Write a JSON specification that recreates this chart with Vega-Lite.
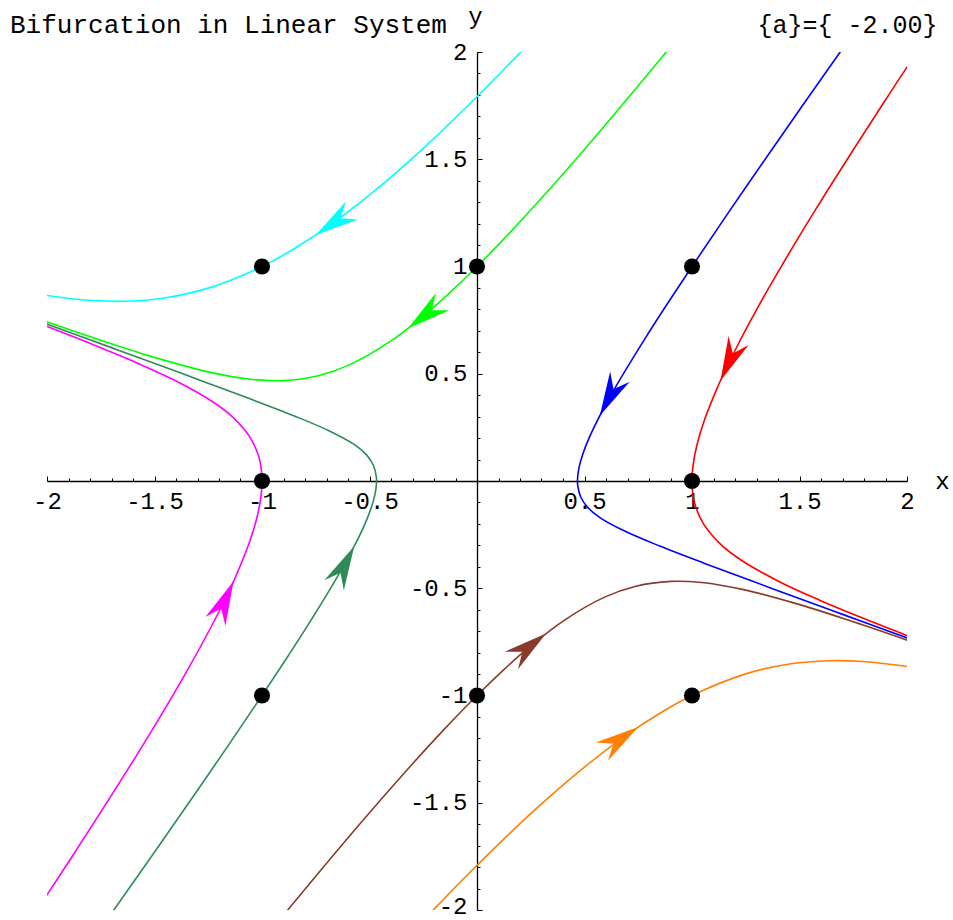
{
  "$schema": "https://vega.github.io/schema/vega-lite/v6.json",
  "width": 860,
  "height": 858,
  "autosize": {"type": "none"},
  "padding": {"left": 47, "top": 52, "right": 46, "bottom": 10},
  "background": "white",
  "config": {"view": {"stroke": null}},
  "datasets": {
    "curves": [
      {"curve": "(1,0)", "i": 1, "x": 2.0712, "y": 2.0370},
      {"curve": "(1,0)", "i": 2, "x": 1.8952, "y": 1.7693},
      {"curve": "(1,0)", "i": 3, "x": 1.5674, "y": 1.2532},
      {"curve": "(1,0)", "i": 4, "x": 1.3520, "y": 0.8907},
      {"curve": "(1,0)", "i": 5, "x": 1.2098, "y": 0.6282},
      {"curve": "(1,0)", "i": 6, "x": 1.1324, "y": 0.4677},
      {"curve": "(1,0)", "i": 7, "x": 1.1169, "y": 0.4329},
      {"curve": "(1,0)", "i": 8, "x": 1.0580, "y": 0.2841},
      {"curve": "(1,0)", "i": 9, "x": 1.0229, "y": 0.1679},
      {"curve": "(1,0)", "i": 10, "x": 1.0052, "y": 0.0753},
      {"curve": "(1,0)", "i": 11, "x": 1.0, "y": 0.0},
      {"curve": "(1,0)", "i": 12, "x": 1.0043, "y": -0.0625},
      {"curve": "(1,0)", "i": 13, "x": 1.0156, "y": -0.1153},
      {"curve": "(1,0)", "i": 14, "x": 1.0534, "y": -0.2002},
      {"curve": "(1,0)", "i": 15, "x": 1.1337, "y": -0.2955},
      {"curve": "(1,0)", "i": 16, "x": 1.2295, "y": -0.3694},
      {"curve": "(1,0)", "i": 17, "x": 1.4064, "y": -0.4694},
      {"curve": "(1,0)", "i": 18, "x": 1.5933, "y": -0.5556},
      {"curve": "(1,0)", "i": 19, "x": 1.7848, "y": -0.6355},
      {"curve": "(1,0)", "i": 20, "x": 2.0175, "y": -0.7273},

      {"curve": "(-1,0)", "i": 1, "x": -2.0712, "y": -2.0370},
      {"curve": "(-1,0)", "i": 2, "x": -1.8952, "y": -1.7693},
      {"curve": "(-1,0)", "i": 3, "x": -1.5674, "y": -1.2532},
      {"curve": "(-1,0)", "i": 4, "x": -1.3520, "y": -0.8907},
      {"curve": "(-1,0)", "i": 5, "x": -1.2098, "y": -0.6282},
      {"curve": "(-1,0)", "i": 6, "x": -1.1324, "y": -0.4677},
      {"curve": "(-1,0)", "i": 7, "x": -1.1169, "y": -0.4329},
      {"curve": "(-1,0)", "i": 8, "x": -1.0580, "y": -0.2841},
      {"curve": "(-1,0)", "i": 9, "x": -1.0229, "y": -0.1679},
      {"curve": "(-1,0)", "i": 10, "x": -1.0052, "y": -0.0753},
      {"curve": "(-1,0)", "i": 11, "x": -1.0, "y": 0.0},
      {"curve": "(-1,0)", "i": 12, "x": -1.0043, "y": 0.0625},
      {"curve": "(-1,0)", "i": 13, "x": -1.0156, "y": 0.1153},
      {"curve": "(-1,0)", "i": 14, "x": -1.0534, "y": 0.2002},
      {"curve": "(-1,0)", "i": 15, "x": -1.1337, "y": 0.2955},
      {"curve": "(-1,0)", "i": 16, "x": -1.2295, "y": 0.3694},
      {"curve": "(-1,0)", "i": 17, "x": -1.4064, "y": 0.4694},
      {"curve": "(-1,0)", "i": 18, "x": -1.5933, "y": 0.5556},
      {"curve": "(-1,0)", "i": 19, "x": -1.7848, "y": 0.6355},
      {"curve": "(-1,0)", "i": 20, "x": -2.0175, "y": 0.7273},

      {"curve": "(1,1)", "i": 1, "x": 1.7563, "y": 2.0954},
      {"curve": "(1,1)", "i": 2, "x": 1.6893, "y": 2.0002},
      {"curve": "(1,1)", "i": 3, "x": 1.5101, "y": 1.7444},
      {"curve": "(1,1)", "i": 4, "x": 1.3588, "y": 1.5267},
      {"curve": "(1,1)", "i": 5, "x": 1.1558, "y": 1.2312},
      {"curve": "(1,1)", "i": 6, "x": 1.0, "y": 1.0},
      {"curve": "(1,1)", "i": 7, "x": 0.8793, "y": 0.8168},
      {"curve": "(1,1)", "i": 8, "x": 0.7851, "y": 0.6698},
      {"curve": "(1,1)", "i": 9, "x": 0.6530, "y": 0.4527},
      {"curve": "(1,1)", "i": 10, "x": 0.5710, "y": 0.3041},
      {"curve": "(1,1)", "i": 11, "x": 0.5205, "y": 0.1986},
      {"curve": "(1,1)", "i": 12, "x": 0.4907, "y": 0.1212},
      {"curve": "(1,1)", "i": 13, "x": 0.4746, "y": 0.0627},
      {"curve": "(1,1)", "i": 14, "x": 0.4681, "y": 0.0172},
      {"curve": "(1,1)", "i": 15, "x": 0.4683, "y": -0.0191},
      {"curve": "(1,1)", "i": 16, "x": 0.4820, "y": -0.0736},
      {"curve": "(1,1)", "i": 17, "x": 0.5137, "y": -0.1218},
      {"curve": "(1,1)", "i": 18, "x": 0.5717, "y": -0.1707},
      {"curve": "(1,1)", "i": 19, "x": 0.6865, "y": -0.2335},
      {"curve": "(1,1)", "i": 20, "x": 0.8498, "y": -0.3033},
      {"curve": "(1,1)", "i": 21, "x": 1.0586, "y": -0.3841},
      {"curve": "(1,1)", "i": 22, "x": 1.3743, "y": -0.5018},
      {"curve": "(1,1)", "i": 23, "x": 1.6909, "y": -0.6183},
      {"curve": "(1,1)", "i": 24, "x": 2.0078, "y": -0.7346},

      {"curve": "(-1,-1)", "i": 1, "x": -1.7563, "y": -2.0954},
      {"curve": "(-1,-1)", "i": 2, "x": -1.6893, "y": -2.0002},
      {"curve": "(-1,-1)", "i": 3, "x": -1.5101, "y": -1.7444},
      {"curve": "(-1,-1)", "i": 4, "x": -1.3588, "y": -1.5267},
      {"curve": "(-1,-1)", "i": 5, "x": -1.1558, "y": -1.2312},
      {"curve": "(-1,-1)", "i": 6, "x": -1.0, "y": -1.0},
      {"curve": "(-1,-1)", "i": 7, "x": -0.8793, "y": -0.8168},
      {"curve": "(-1,-1)", "i": 8, "x": -0.7851, "y": -0.6698},
      {"curve": "(-1,-1)", "i": 9, "x": -0.6530, "y": -0.4527},
      {"curve": "(-1,-1)", "i": 10, "x": -0.5710, "y": -0.3041},
      {"curve": "(-1,-1)", "i": 11, "x": -0.5205, "y": -0.1986},
      {"curve": "(-1,-1)", "i": 12, "x": -0.4907, "y": -0.1212},
      {"curve": "(-1,-1)", "i": 13, "x": -0.4746, "y": -0.0627},
      {"curve": "(-1,-1)", "i": 14, "x": -0.4681, "y": -0.0172},
      {"curve": "(-1,-1)", "i": 15, "x": -0.4683, "y": 0.0191},
      {"curve": "(-1,-1)", "i": 16, "x": -0.4820, "y": 0.0736},
      {"curve": "(-1,-1)", "i": 17, "x": -0.5137, "y": 0.1218},
      {"curve": "(-1,-1)", "i": 18, "x": -0.5717, "y": 0.1707},
      {"curve": "(-1,-1)", "i": 19, "x": -0.6865, "y": 0.2335},
      {"curve": "(-1,-1)", "i": 20, "x": -0.8498, "y": 0.3033},
      {"curve": "(-1,-1)", "i": 21, "x": -1.0586, "y": 0.3841},
      {"curve": "(-1,-1)", "i": 22, "x": -1.3743, "y": 0.5018},
      {"curve": "(-1,-1)", "i": 23, "x": -1.6909, "y": 0.6183},
      {"curve": "(-1,-1)", "i": 24, "x": -2.0078, "y": 0.7346},

      {"curve": "(0,1)", "i": 1, "x": 0.9355, "y": 2.0678},
      {"curve": "(0,1)", "i": 2, "x": 0.8659, "y": 1.9828},
      {"curve": "(0,1)", "i": 3, "x": 0.5681, "y": 1.6261},
      {"curve": "(0,1)", "i": 4, "x": 0.3359, "y": 1.3588},
      {"curve": "(0,1)", "i": 5, "x": 0.1507, "y": 1.1558},
      {"curve": "(0,1)", "i": 6, "x": 0.0, "y": 1.0},
      {"curve": "(0,1)", "i": 7, "x": -0.1250, "y": 0.8793},
      {"curve": "(0,1)", "i": 8, "x": -0.2305, "y": 0.7851},
      {"curve": "(0,1)", "i": 9, "x": -0.4005, "y": 0.6530},
      {"curve": "(0,1)", "i": 10, "x": -0.5910, "y": 0.5426},
      {"curve": "(0,1)", "i": 11, "x": -0.7389, "y": 0.4907},
      {"curve": "(0,1)", "i": 12, "x": -0.9018, "y": 0.4681},
      {"curve": "(0,1)", "i": 13, "x": -1.0444, "y": 0.4734},
      {"curve": "(0,1)", "i": 14, "x": -1.2397, "y": 0.5065},
      {"curve": "(0,1)", "i": 15, "x": -1.4848, "y": 0.5717},
      {"curve": "(0,1)", "i": 16, "x": -1.7225, "y": 0.6470},
      {"curve": "(0,1)", "i": 17, "x": -2.0153, "y": 0.7470},

      {"curve": "(0,-1)", "i": 1, "x": -0.9355, "y": -2.0678},
      {"curve": "(0,-1)", "i": 2, "x": -0.8659, "y": -1.9828},
      {"curve": "(0,-1)", "i": 3, "x": -0.5681, "y": -1.6261},
      {"curve": "(0,-1)", "i": 4, "x": -0.3359, "y": -1.3588},
      {"curve": "(0,-1)", "i": 5, "x": -0.1507, "y": -1.1558},
      {"curve": "(0,-1)", "i": 6, "x": 0.0, "y": -1.0},
      {"curve": "(0,-1)", "i": 7, "x": 0.1250, "y": -0.8793},
      {"curve": "(0,-1)", "i": 8, "x": 0.2305, "y": -0.7851},
      {"curve": "(0,-1)", "i": 9, "x": 0.4005, "y": -0.6530},
      {"curve": "(0,-1)", "i": 10, "x": 0.5910, "y": -0.5426},
      {"curve": "(0,-1)", "i": 11, "x": 0.7389, "y": -0.4907},
      {"curve": "(0,-1)", "i": 12, "x": 0.9018, "y": -0.4681},
      {"curve": "(0,-1)", "i": 13, "x": 1.0444, "y": -0.4734},
      {"curve": "(0,-1)", "i": 14, "x": 1.2397, "y": -0.5065},
      {"curve": "(0,-1)", "i": 15, "x": 1.4848, "y": -0.5717},
      {"curve": "(0,-1)", "i": 16, "x": 1.7225, "y": -0.6470},
      {"curve": "(0,-1)", "i": 17, "x": 2.0153, "y": -0.7470},

      {"curve": "(-1,1)", "i": 1, "x": 0.2637, "y": 2.0638},
      {"curve": "(-1,1)", "i": 2, "x": 0.1875, "y": 1.9833},
      {"curve": "(-1,1)", "i": 3, "x": 0.0465, "y": 1.8380},
      {"curve": "(-1,1)", "i": 4, "x": -0.2511, "y": 1.5499},
      {"curve": "(-1,1)", "i": 5, "x": -0.4898, "y": 1.3420},
      {"curve": "(-1,1)", "i": 6, "x": -0.6871, "y": 1.1909},
      {"curve": "(-1,1)", "i": 7, "x": -0.8545, "y": 1.0805},
      {"curve": "(-1,1)", "i": 8, "x": -1.0, "y": 1.0},
      {"curve": "(-1,1)", "i": 9, "x": -1.2462, "y": 0.9003},
      {"curve": "(-1,1)", "i": 10, "x": -1.4539, "y": 0.8532},
      {"curve": "(-1,1)", "i": 11, "x": -1.6383, "y": 0.8378},
      {"curve": "(-1,1)", "i": 12, "x": -1.8082, "y": 0.8424},
      {"curve": "(-1,1)", "i": 13, "x": -1.9684, "y": 0.8601},
      {"curve": "(-1,1)", "i": 14, "x": -2.0460, "y": 0.8724},

      {"curve": "(1,-1)", "i": 1, "x": -0.2637, "y": -2.0638},
      {"curve": "(1,-1)", "i": 2, "x": -0.1875, "y": -1.9833},
      {"curve": "(1,-1)", "i": 3, "x": -0.0465, "y": -1.8380},
      {"curve": "(1,-1)", "i": 4, "x": 0.2511, "y": -1.5499},
      {"curve": "(1,-1)", "i": 5, "x": 0.4898, "y": -1.3420},
      {"curve": "(1,-1)", "i": 6, "x": 0.6871, "y": -1.1909},
      {"curve": "(1,-1)", "i": 7, "x": 0.8545, "y": -1.0805},
      {"curve": "(1,-1)", "i": 8, "x": 1.0, "y": -1.0},
      {"curve": "(1,-1)", "i": 9, "x": 1.2462, "y": -0.9003},
      {"curve": "(1,-1)", "i": 10, "x": 1.4539, "y": -0.8532},
      {"curve": "(1,-1)", "i": 11, "x": 1.6383, "y": -0.8378},
      {"curve": "(1,-1)", "i": 12, "x": 1.8082, "y": -0.8424},
      {"curve": "(1,-1)", "i": 13, "x": 1.9684, "y": -0.8601},
      {"curve": "(1,-1)", "i": 14, "x": 2.0460, "y": -0.8724}
    ],
    "starts": [
      {"curve": "(-1,1)", "x": -1, "y": 1},
      {"curve": "(0,1)", "x": 0, "y": 1},
      {"curve": "(1,1)", "x": 1, "y": 1},
      {"curve": "(1,0)", "x": 1, "y": 0},
      {"curve": "(-1,0)", "x": -1, "y": 0},
      {"curve": "(-1,-1)", "x": -1, "y": -1},
      {"curve": "(0,-1)", "x": 0, "y": -1},
      {"curve": "(1,-1)", "x": 1, "y": -1}
    ],
    "arrows": [
      {"curve": "(-1,1)", "x": -0.7503, "y": 1.1471, "heading": 236.06},
      {"curve": "(0,1)", "x": -0.3212, "y": 0.7112, "heading": 232.25},
      {"curve": "(1,1)", "x": 0.5710, "y": 0.3041, "heading": 207.29},
      {"curve": "(1,0)", "x": 1.1324, "y": 0.4677, "heading": 204.34},
      {"curve": "(-1,0)", "x": -1.1324, "y": -0.4677, "heading": 24.34},
      {"curve": "(-1,-1)", "x": -0.5710, "y": -0.3041, "heading": 27.29},
      {"curve": "(0,-1)", "x": 0.3212, "y": -0.7112, "heading": 52.25},
      {"curve": "(1,-1)", "x": 0.7503, "y": -1.1471, "heading": 56.06}
    ],
    "titles": [
      {"text": "Bifurcation in Linear System", "x": -2.172, "y": 2.0886}
    ],
    "params": [
      {"text": "{a}={ -2.00}", "x": 1.305, "y": 2.0886}
    ]
  },
  "encoding": {
    "x": {
      "field": "x",
      "type": "quantitative",
      "scale": {"domain": [-2, 2], "nice": false, "zero": false},
      "axis": {
        "orient": "bottom",
        "offset": -429,
        "grid": false,
        "values": [-2, -1.9, -1.8, -1.7, -1.6, -1.5, -1.4, -1.3, -1.2, -1.1, -1, -0.9, -0.8, -0.7, -0.6, -0.5, -0.4, -0.3, -0.2, -0.1, 0.1, 0.2, 0.3, 0.4, 0.5, 0.6, 0.7, 0.8, 0.9, 1, 1.1, 1.2, 1.3, 1.4, 1.5, 1.6, 1.7, 1.8, 1.9, 2],
        "domainColor": "black",
        "domainWidth": 1.3,
        "tickColor": "black",
        "tickWidth": 1,
        "tickSize": {"condition": {"test": "abs(datum.value*2 - round(datum.value*2)) < 0.001", "value": -5}, "value": -3},
        "labelExpr": "abs(datum.value*2 - round(datum.value*2)) < 0.001 ? toString(datum.value) : ''",
        "labelFont": "Liberation Mono",
        "labelFontSize": 24,
        "labelColor": "black",
        "labelBaseline": "alphabetic",
        "labelPadding": 32,
        "labelOverlap": false,
        "labelFlush": false,
        "title": "x",
        "titleFont": "Liberation Mono",
        "titleFontSize": 24,
        "titleFontWeight": "normal",
        "titleColor": "black",
        "titleAlign": "center",
        "titleBaseline": "alphabetic",
        "titleX": 895,
        "titleY": 7
      }
    },
    "y": {
      "field": "y",
      "type": "quantitative",
      "scale": {"domain": [-2, 2], "nice": false, "zero": false},
      "axis": {
        "orient": "left",
        "offset": -430,
        "grid": false,
        "values": [-2, -1.9, -1.8, -1.7, -1.6, -1.5, -1.4, -1.3, -1.2, -1.1, -1, -0.9, -0.8, -0.7, -0.6, -0.5, -0.4, -0.3, -0.2, -0.1, 0.1, 0.2, 0.3, 0.4, 0.5, 0.6, 0.7, 0.8, 0.9, 1, 1.1, 1.2, 1.3, 1.4, 1.5, 1.6, 1.7, 1.8, 1.9, 2],
        "domainColor": "black",
        "domainWidth": 1.3,
        "tickColor": "black",
        "tickWidth": 1,
        "tickSize": {"condition": {"test": "abs(datum.value*2 - round(datum.value*2)) < 0.001", "value": -5}, "value": -3},
        "labelExpr": "abs(datum.value*2 - round(datum.value*2)) < 0.001 ? toString(datum.value) : ''",
        "labelFont": "Liberation Mono",
        "labelFontSize": 24,
        "labelColor": "black",
        "labelBaseline": "middle",
        "labelOffset": {"condition": {"test": "datum.value < -1.99", "value": -4}, "value": 0},
        "labelPadding": 15,
        "labelOverlap": false,
        "labelFlush": false,
        "title": "y",
        "titleFont": "Liberation Mono",
        "titleFontSize": 24,
        "titleFontWeight": "normal",
        "titleColor": "black",
        "titleAngle": 0,
        "titleAlign": "center",
        "titleBaseline": "alphabetic",
        "titleX": -2,
        "titleY": -29
      }
    }
  },
  "layer": [
    {
      "data": {"name": "curves"},
      "mark": {"type": "line", "interpolate": "catmull-rom", "strokeWidth": 1.6, "clip": true},
      "encoding": {
        "color": {
          "field": "curve",
          "type": "nominal",
          "scale": {
            "domain": ["(-1,1)", "(0,1)", "(1,1)", "(1,0)", "(-1,0)", "(-1,-1)", "(0,-1)", "(1,-1)"],
            "range": ["#00FFFF", "#00FF00", "#0000FF", "#FF0000", "#FF00FF", "#2E8B57", "#8B3A2A", "#FF8000"]
          },
          "legend": null
        },
        "order": {"field": "i", "type": "quantitative"}
      }
    },
    {
      "data": {"name": "arrows"},
      "mark": {"type": "point", "shape": "M0,0L-0.25,1L0,0.68L0.25,1Z", "filled": true, "size": 7744, "opacity": 1, "strokeWidth": 0},
      "encoding": {
        "color": {"field": "curve", "type": "nominal", "legend": null},
        "angle": {"field": "heading", "type": "quantitative", "scale": null}
      }
    },
    {
      "data": {"name": "starts"},
      "mark": {"type": "point", "shape": "circle", "filled": true, "color": "black", "size": 260, "opacity": 1, "strokeWidth": 0}
    },
    {
      "data": {"name": "titles"},
      "mark": {"type": "text", "font": "Liberation Mono", "fontSize": 26, "align": "left", "baseline": "alphabetic", "color": "black"},
      "encoding": {"text": {"field": "text"}}
    },
    {
      "data": {"name": "params"},
      "mark": {"type": "text", "font": "Liberation Mono", "fontSize": 25, "align": "left", "baseline": "alphabetic", "color": "black"},
      "encoding": {"text": {"field": "text"}}
    }
  ]
}
